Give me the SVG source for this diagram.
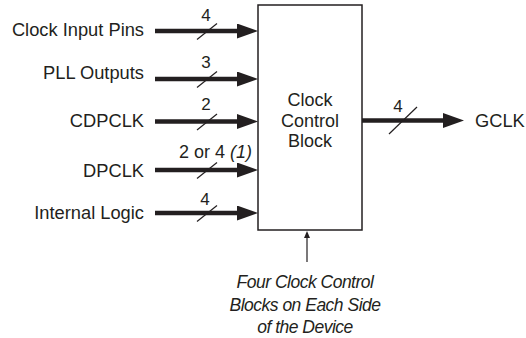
<svg xmlns="http://www.w3.org/2000/svg" width="526" height="338" viewBox="0 0 526 338">
<style>
text{font-family:"Liberation Sans",Arial,Helvetica,sans-serif;fill:#231f20}
.lbl{font-size:18.3px;text-anchor:end}
.num{font-size:17px;text-anchor:middle}
.box{font-size:18px;text-anchor:middle}
.cap{font-size:17.5px;font-style:italic;text-anchor:middle;letter-spacing:-0.5px}
.bus{stroke:#231f20;stroke-width:4.5;fill:none}
.tick{stroke:#231f20;stroke-width:1.2;fill:none}
.thin{stroke:#231f20;stroke-width:1.2;fill:none}
</style>
<defs>
<marker id="big" markerUnits="userSpaceOnUse" markerWidth="21" markerHeight="15" refX="3" refY="7.5" orient="auto">
<path d="M0,0 L21,7.5 L0,15 z" fill="#231f20"/>
</marker>
<marker id="small" markerUnits="userSpaceOnUse" markerWidth="7" markerHeight="6" refX="1" refY="3" orient="auto">
<path d="M0,0 L7,3 L0,6 z" fill="#231f20"/>
</marker>
</defs>
<g id="block">
<rect x="258" y="5" width="104" height="225" fill="#fff" stroke="#231f20" stroke-width="1.5"/>
<text class="box" x="310" y="106">Clock</text>
<text class="box" x="310" y="126.5">Control</text>
<text class="box" x="310" y="147">Block</text>
</g>
<g id="in-clock-input-pins"><text class="lbl" x="144" y="36">Clock Input Pins</text></g>
<g id="in-pll-outputs"><text class="lbl" x="144" y="79">PLL Outputs</text></g>
<g id="in-cdpclk"><text class="lbl" x="144" y="126.5">CDPCLK</text></g>
<g id="in-dpclk"><text class="lbl" x="144" y="176.5">DPCLK</text></g>
<g id="in-internal-logic"><text class="lbl" x="144" y="219">Internal Logic</text></g>
<g id="out-gclk"><text x="475" y="127" style="font-size:18.3px">GCLK</text></g>
<g id="caption">
<text class="cap" x="305" y="288">Four Clock Control</text>
<text class="cap" x="305" y="311">Blocks on Each Side</text>
<text class="cap" x="305" y="333">of the Device</text>
</g>
<g id="connectors">
<line class="bus" x1="155" y1="31" x2="240" y2="31" marker-end="url(#big)"/>
<line class="tick" x1="197" y1="39.5" x2="217" y2="23.5"/>
<text class="num" x="206" y="21">4</text>
<line class="bus" x1="155" y1="79" x2="240" y2="79" marker-end="url(#big)"/>
<line class="tick" x1="197" y1="87.5" x2="217" y2="71.5"/>
<text class="num" x="206" y="68">3</text>
<line class="bus" x1="155" y1="121.5" x2="240" y2="121.5" marker-end="url(#big)"/>
<line class="tick" x1="197" y1="130" x2="217" y2="114"/>
<text class="num" x="206" y="110">2</text>
<line class="bus" x1="155" y1="170" x2="240" y2="170" marker-end="url(#big)"/>
<line class="tick" x1="197" y1="178.5" x2="217" y2="162.5"/>
<text x="252" y="158" style="font-size:18px;text-anchor:end">2 or 4 <tspan style="font-style:italic">(1)</tspan></text>
<line class="bus" x1="155" y1="213" x2="240" y2="213" marker-end="url(#big)"/>
<line class="tick" x1="197" y1="221.5" x2="217" y2="205.5"/>
<text class="num" x="205" y="205">4</text>
<line class="bus" x1="362" y1="120.5" x2="446" y2="120.5" marker-end="url(#big)"/>
<line class="tick" x1="389" y1="134" x2="417" y2="107"/>
<text class="num" x="398" y="112">4</text>
<line class="thin" x1="307" y1="262" x2="307" y2="237" marker-end="url(#small)"/>
</g>
</svg>
